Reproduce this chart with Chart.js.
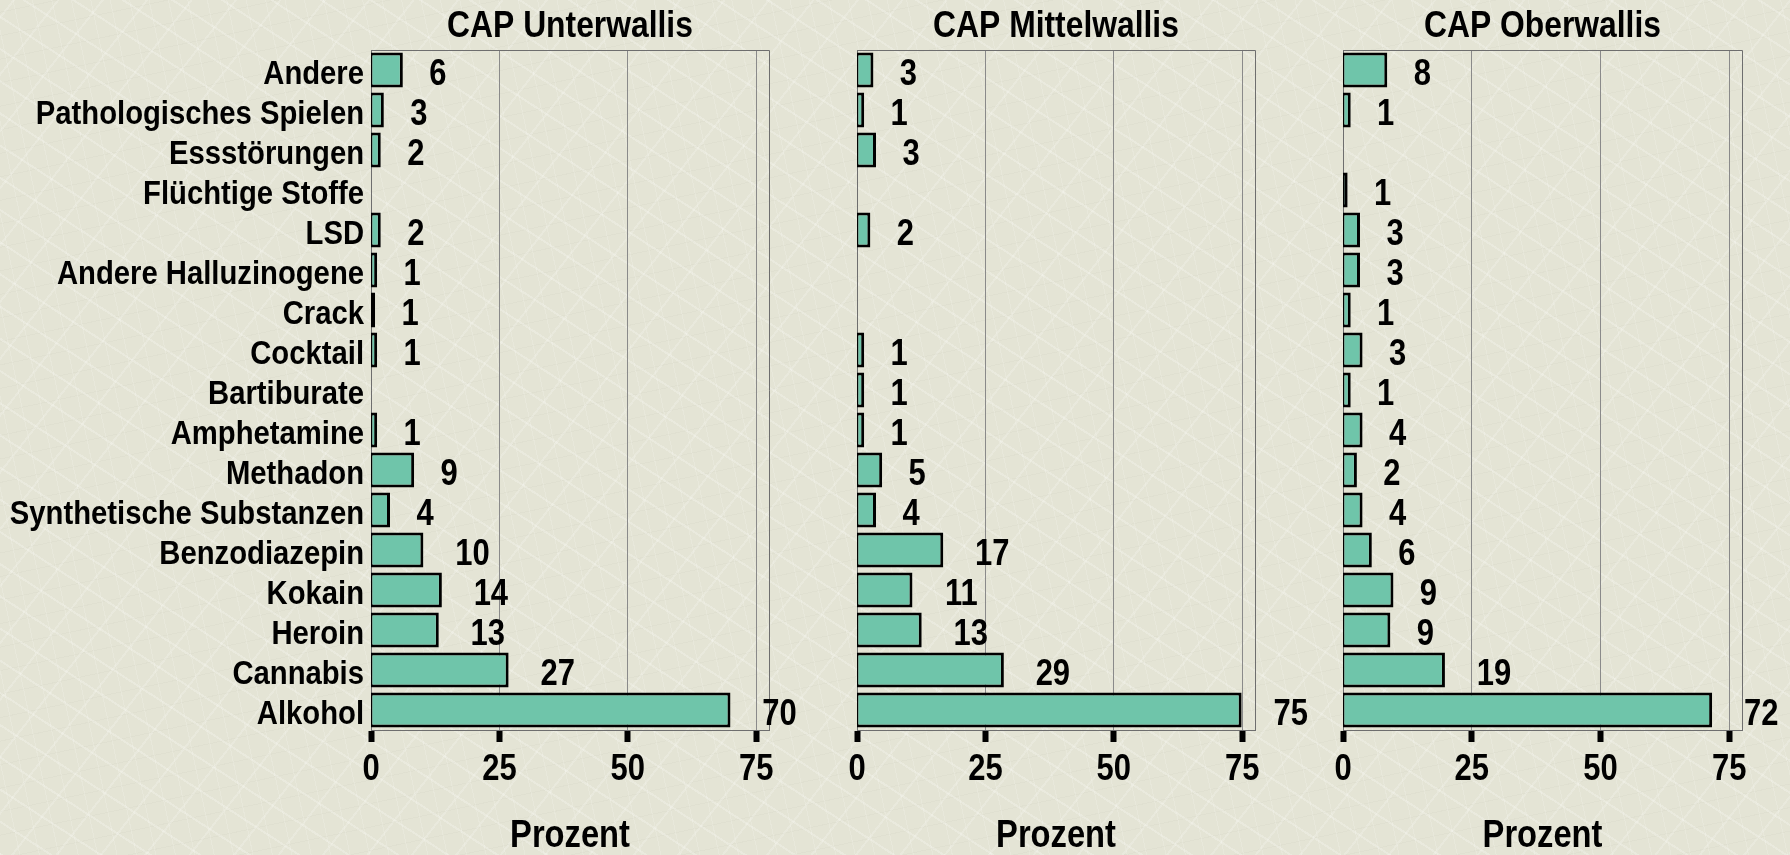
<!DOCTYPE html>
<html>
<head>
<meta charset="utf-8">
<script src="https://cdn.jsdelivr.net/npm/chart.js@4/dist/chart.umd.min.js"></script>
<style>
html, body { margin:0; padding:0; width:1790px; height:855px; overflow:hidden; }
body {
  position:relative;
  background-color:#e4e4d5;
  background-image:
    repeating-linear-gradient(33deg, rgba(255,255,255,0.22) 0 2px, transparent 2px 27px),
    repeating-linear-gradient(-52deg, rgba(255,255,255,0.18) 0 2px, transparent 2px 35px),
    repeating-linear-gradient(78deg, rgba(255,255,250,0.16) 0 1px, transparent 1px 19px),
    repeating-linear-gradient(-12deg, rgba(205,205,190,0.18) 0 1px, transparent 1px 23px);
}
canvas { position:absolute; top:0; }
</style>
</head>
<body>
<canvas id="c1" width="800" height="860" style="left:0px"></canvas>
<canvas id="c2" width="510" height="860" style="left:800px"></canvas>
<canvas id="c3" width="500" height="860" style="left:1290px"></canvas>
<script>
// ---- data ----
const categories = ['Andere','Pathologisches Spielen','Essstörungen','Flüchtige Stoffe','LSD',
  'Andere Halluzinogene','Crack','Cocktail','Bartiburate','Amphetamine','Methadon',
  'Synthetische Substanzen','Benzodiazepin','Kokain','Heroin','Cannabis','Alkohol'];

const panelTitles = ['CAP Unterwallis','CAP Mittelwallis','CAP Oberwallis'];

const unterwallis = [6.2, 2.5, 1.9, null, 1.9, 1.2, 0.8, 1.2, null, 1.2, 8.4, 3.7, 10.2, 13.8, 13.2, 26.8, 70.0];
const unterLabels = ['6','3','2','','2','1','1','1','','1','9','4','10','14','13','27','70'];

const mittelwallis = [3.2, 1.4, 3.7, null, 2.6, null, null, 1.4, 1.4, 1.4, 4.9, 3.7, 16.8, 10.8, 12.6, 28.6, 74.9];
const mittelLabels = ['3','1','3','','2','','','1','1','1','5','4','17','11','13','29','75'];

const oberwallis = [8.6, 1.5, null, 0.9, 3.3, 3.3, 1.5, 3.8, 1.5, 3.8, 2.7, 3.8, 5.6, 9.8, 9.2, 19.8, 71.7];
const oberLabels = ['8','1','','1','3','3','1','3','1','4','2','4','6','9','9','19','72'];

const xTickValues = [0, 25, 50, 75];
const axisTitle = 'Prozent';

// ---- styling ----
const FONT = "'Liberation Sans', Arial, sans-serif";
const SX = 0.86; // condensed lettering
Chart.defaults.font.family = FONT;
Chart.defaults.font.weight = 'bold';
Chart.defaults.color = '#000';

function condense(canvas) {
  const ctx = canvas.getContext('2d');
  const orig = ctx.fillText;
  ctx.fillText = function (text, x, y, maxWidth) {
    this.save();
    this.translate(x, y);
    this.scale(SX, 1);
    if (maxWidth !== undefined && maxWidth !== null) orig.call(this, text, 0, 0, maxWidth / SX);
    else orig.call(this, text, 0, 0);
    this.restore();
  };
}

const frame = {
  id: 'frame',
  beforeDatasetsDraw(chart) {
    const {ctx, chartArea: a} = chart;
    ctx.save();
    ctx.strokeStyle = '#6e6e6e';
    ctx.lineWidth = 1;
    ctx.beginPath();
    ctx.moveTo(Math.round(a.left), Math.round(a.top) + 0.5);
    ctx.lineTo(Math.round(a.right) + 0.5, Math.round(a.top) + 0.5);
    ctx.lineTo(Math.round(a.right) + 0.5, Math.round(a.bottom));
    ctx.stroke();
    ctx.restore();
  }
};

const valueLabels = {
  id: 'valueLabels',
  afterDatasetsDraw(chart, args, opts) {
    const meta = chart.getDatasetMeta(0);
    const ctx = chart.ctx;
    ctx.save();
    ctx.font = 'bold 36px ' + FONT;
    ctx.fillStyle = '#000';
    ctx.textAlign = 'center';
    ctx.textBaseline = 'middle';
    meta.data.forEach((bar, i) => {
      const t = opts.labels[i];
      if (!t) return;
      const off = t.length > 1 ? 49 : 35;
      ctx.fillText(t, bar.x + off, bar.y + 5);
    });
    ctx.restore();
  }
};

function makePanel(id, title, values, labels, yWidth, padRight, showY) {
  const canvas = document.getElementById(id);
  condense(canvas);
  return new Chart(canvas, {
    type: 'bar',
    data: {
      labels: categories,
      datasets: [{
        data: values,
        base: -0.3,
        backgroundColor: '#6fc5aa',
        borderColor: '#000',
        borderWidth: 3,
        borderSkipped: false,
        barPercentage: 0.87,
        categoryPercentage: 1
      }]
    },
    options: {
      indexAxis: 'y',
      responsive: false,
      animation: false,
      devicePixelRatio: 1,
      layout: { padding: { left: 0, right: padRight, top: 0, bottom: 0 } },
      plugins: {
        legend: { display: false },
        tooltip: { enabled: false },
        title: {
          display: true, text: title, fullSize: false,
          font: { size: 37, weight: 'bold' }, color: '#000',
          padding: { top: 4.5, bottom: 1.1 }
        },
        valueLabels: { labels: labels }
      },
      scales: {
        x: {
          type: 'linear', min: 0, max: 77.5,
          afterBuildTicks: s => { s.ticks = xTickValues.map(v => ({ value: v })); },
          afterFit: s => { s.height = 130; },
          grid: { color: '#8a8a8a', lineWidth: 1, drawTicks: true, tickLength: 12, tickWidth: 6, tickColor: '#000' },
          border: { display: true, color: '#6e6e6e', width: 1 },
          ticks: { font: { size: 36 }, padding: 6.4, color: '#000', maxRotation: 0, autoSkip: false },
          title: { display: true, text: axisTitle, font: { size: 38 }, color: '#000', padding: { top: 0, bottom: 0.7 } }
        },
        y: {
          afterFit: s => { s.width = yWidth; },
          grid: { display: false, drawTicks: false },
          border: { display: true, color: '#6e6e6e', width: 1 },
          ticks: { display: showY, font: { size: 34 }, padding: 7, labelOffset: 5, color: '#000', autoSkip: false }
        }
      }
    },
    plugins: [frame, valueLabels]
  });
}

makePanel('c1', panelTitles[0], unterwallis, unterLabels, 371, 31, true);
makePanel('c2', panelTitles[1], mittelwallis, mittelLabels, 57, 55, false);
makePanel('c3', panelTitles[2], oberwallis, oberLabels, 53, 48, false);
</script>
</body>
</html>
